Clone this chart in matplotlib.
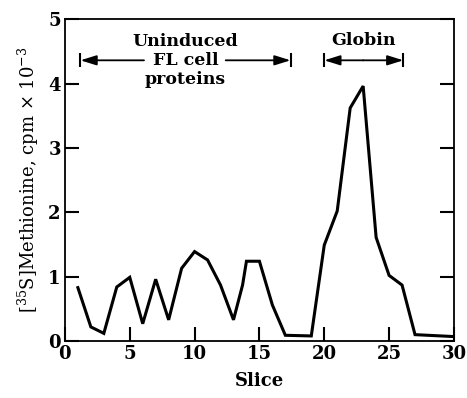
import matplotlib.pyplot as plt

# slice positions and counts
slices = [1, 2, 3, 4, 5, 6, 7, 8, 9, 10, 11, 12, 13, 13.7, 14, 15, 16, 17, 19, 20, 21, 22, 23, 24, 25, 26, 27, 30]
cpm = [0.83, 0.22, 0.12, 0.84, 0.99, 0.27, 0.96, 0.33, 1.13, 1.39, 1.26, 0.87, 0.33, 0.87, 1.24, 1.24,
       0.56, 0.09, 0.08, 1.49, 2.02, 3.62, 3.96, 1.61, 1.02, 0.87, 0.10, 0.07]

xticks = [0, 5, 10, 15, 20, 25, 30]
yticks = [0, 1, 2, 3, 4, 5]

plt.rcParams['font.family'] = ['DejaVu Serif']
plt.rcParams['mathtext.fontset'] = 'dejavuserif'

fig = plt.figure(figsize=(4.67, 3.98), dpi=100)
ax = fig.add_axes([0.139, 0.143, 0.833, 0.809])

ax.plot(slices, cpm, color='black', linewidth=2.2, solid_joinstyle='miter')

ax.set_xlim(0, 30)
ax.set_ylim(0, 5)
ax.set_xticks(xticks)
ax.set_yticks(yticks)
ax.set_xticklabels([str(t) for t in xticks], fontsize=13, fontweight='bold')
ax.set_yticklabels([str(t) for t in yticks], fontsize=13, fontweight='bold')
ax.tick_params(direction='in', length=10, width=1.5, pad=3)
ax.tick_params(axis='y', right=True)
for s in ax.spines.values():
    s.set_linewidth(1.3)

ax.set_xlabel('Slice', fontsize=13, fontweight='bold', labelpad=6)
ax.set_ylabel(r'[$^{35}$S]Methionine, cpm $\times$ 10$^{-3}$', fontsize=13, labelpad=5)

# region brackets
arrow_kw = dict(arrowstyle='-|>,head_length=0.8,head_width=0.25', color='black', lw=1.3,
                mutation_scale=12, shrinkA=0, shrinkB=0)
ya = 4.36
ax.annotate('', xy=(1.2, ya), xytext=(6.1, ya), arrowprops=arrow_kw)
ax.annotate('', xy=(17.4, ya), xytext=(12.4, ya), arrowprops=arrow_kw)
ax.annotate('', xy=(20.0, ya), xytext=(23.0, ya), arrowprops=arrow_kw)
ax.annotate('', xy=(26.1, ya), xytext=(23.0, ya), arrowprops=arrow_kw)
ax.plot([1.2, 17.4, 20.0, 26.1], [ya] * 4, linestyle='none', marker='|', markersize=10,
        markeredgewidth=1.5, color='black')

ax.text(9.3, 4.36, 'Uninduced\nFL cell\nproteins', ha='center', va='center', fontsize=12.5,
        fontweight='bold', linespacing=1.15)
ax.text(23.0, 4.66, 'Globin', ha='center', va='center', fontsize=12.5, fontweight='bold')

fig.savefig('out.png', dpi=100)
